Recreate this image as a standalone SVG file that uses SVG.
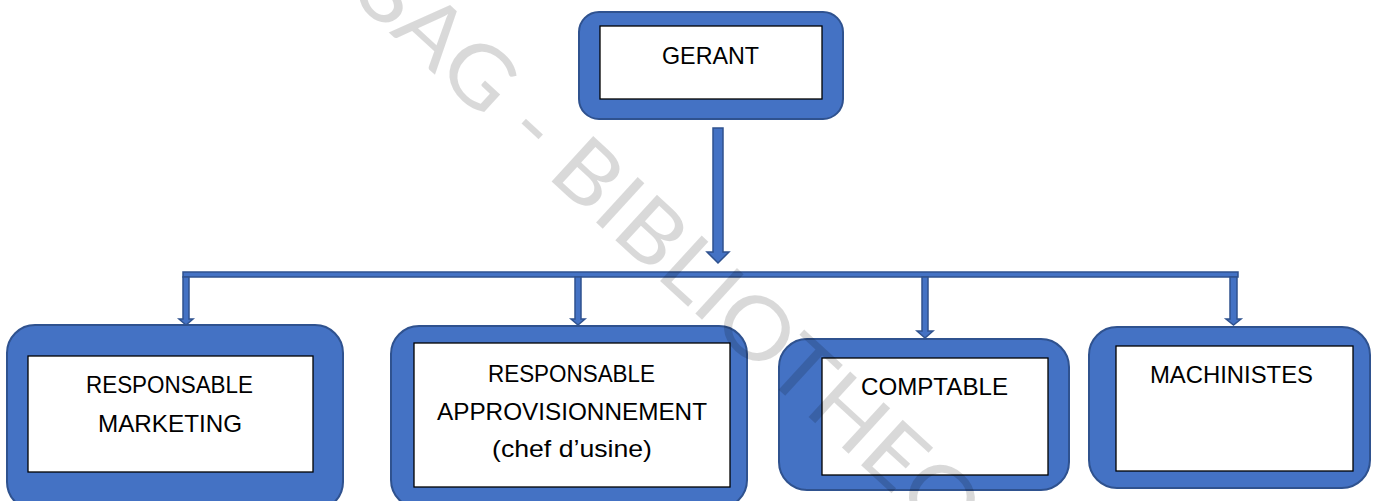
<svg xmlns="http://www.w3.org/2000/svg" width="1378" height="501" viewBox="0 0 1378 501">
<style>
.outer{fill:#4472c4;stroke:#2f528f;stroke-width:2}
.inner{fill:#ffffff;stroke:#000000;stroke-width:1.3}
.lbl{font-family:"Liberation Sans",Arial,sans-serif;font-size:24px;fill:#000000;text-anchor:middle}
.conn{fill:#4472c4;stroke:#2f528f;stroke-width:1.5;stroke-linejoin:miter}
.wm{font-family:Lato,"Liberation Sans",Arial,sans-serif;font-weight:400;font-size:86px;fill:#000000;fill-opacity:0.15}
</style>
<rect width="1378" height="501" fill="#ffffff"/>

<g id="connectors">
  <path class="conn" d="M713,128 H723 V252 H729 L718,263 L707,252 H713 Z"/>
  <rect class="conn" x="183" y="272" width="1055" height="5"/>
  <path class="conn" d="M183,277 H189 V319 H193 L186,325 L179,319 H183 Z"/>
  <path class="conn" d="M575,277 H581 V319 H585 L578,325 L571,319 H575 Z"/>
  <path class="conn" d="M922,277 H928 V331 H933 L925,338 L917,331 H922 Z"/>
  <path class="conn" d="M1230,277 H1237 V319 H1241 L1233.5,325 L1226,319 H1230 Z"/>
</g>

<g id="gerant">
  <rect class="outer" x="579" y="12" width="264" height="107" rx="20"/>
  <rect class="inner" x="600" y="26" width="222" height="73"/>
  <text class="lbl" x="710.5" y="64" textLength="97" lengthAdjust="spacingAndGlyphs">GERANT</text>
</g>

<g id="responsable-marketing">
  <rect class="outer" x="7" y="325" width="336" height="185" rx="28"/>
  <rect class="inner" x="28" y="356" width="285" height="116"/>
  <text class="lbl" x="169.5" y="393" textLength="167" lengthAdjust="spacingAndGlyphs">RESPONSABLE</text>
  <text class="lbl" x="170" y="432" textLength="144" lengthAdjust="spacingAndGlyphs">MARKETING</text>
</g>

<g id="responsable-approvisionnement">
  <rect class="outer" x="391" y="326" width="356" height="182" rx="28"/>
  <rect class="inner" x="414" y="343" width="316" height="144"/>
  <text class="lbl" x="571.5" y="382" textLength="167" lengthAdjust="spacingAndGlyphs">RESPONSABLE</text>
  <text class="lbl" x="572" y="420" textLength="270" lengthAdjust="spacingAndGlyphs">APPROVISIONNEMENT</text>
  <text class="lbl" x="572" y="457" textLength="160" lengthAdjust="spacingAndGlyphs">(chef d’usine)</text>
</g>

<g id="comptable">
  <rect class="outer" x="779" y="339" width="290" height="151" rx="28"/>
  <rect class="inner" x="822" y="358" width="226" height="117"/>
  <text class="lbl" x="934.5" y="395" textLength="147" lengthAdjust="spacingAndGlyphs">COMPTABLE</text>
</g>

<g id="machinistes">
  <rect class="outer" x="1089" y="327" width="281" height="161" rx="28"/>
  <rect class="inner" x="1116" y="346" width="237" height="125"/>
  <text class="lbl" x="1231.5" y="383" textLength="163" lengthAdjust="spacingAndGlyphs">MACHINISTES</text>
</g>

<g id="watermark">
  <text class="wm" transform="translate(266,-80) rotate(42.5)" x="0" y="0" textLength="1049" lengthAdjust="spacingAndGlyphs">CESAG - BIBLIOTHEQUE</text>
</g>
</svg>
